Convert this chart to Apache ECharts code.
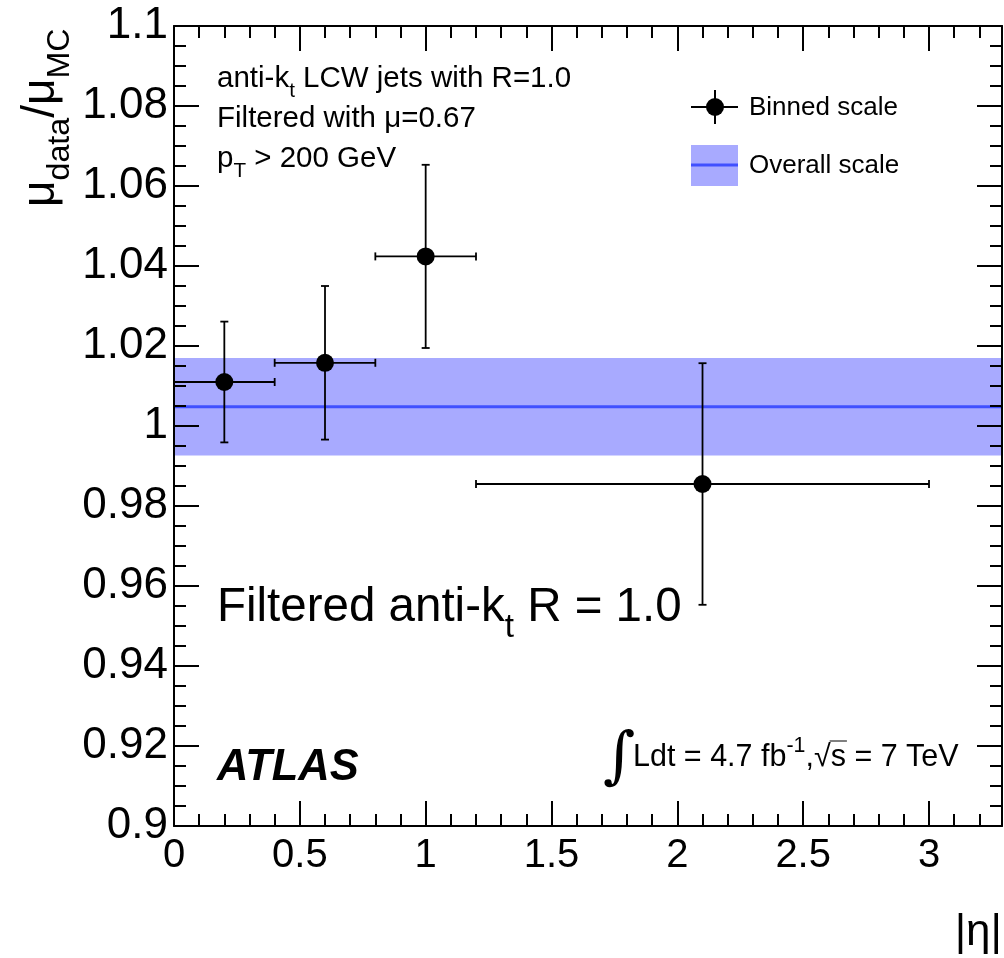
<!DOCTYPE html>
<html><head><meta charset="utf-8">
<script src="https://cdn.jsdelivr.net/npm/echarts@6/dist/echarts.min.js"></script>
<style>html,body{margin:0;padding:0;background:#fff}#c{width:1004px;height:958px}</style>
</head><body><div id="c"></div>
<script>
// ---- data ----
const etaCenter = [0.2, 0.6, 1.0, 2.1];
const etaLow    = [0.0, 0.4, 0.8, 1.2];
const etaHigh   = [0.4, 0.8, 1.2, 3.0];
const ratio     = [1.011, 1.0158, 1.0424, 0.9855];
const ratioErr  = [0.0151, 0.0192, 0.0229, 0.0302];
const overallScale = 1.0048;
const overallErr   = 0.0122;
const xRange = [0, 3.29];
const yRange = [0.9, 1.1];
const xTickLabels = ['0', '0.5', '1', '1.5', '2', '2.5', '3'];
const yTickLabels = ['0.9','0.92','0.94','0.96','0.98','1','1.02','1.04','1.06','1.08','1.1'];

// ---- helpers ----
const FF = '"Liberation Sans", Arial, Helvetica, sans-serif';
const ctx = document.createElement('canvas').getContext('2d');
function measure(t, size, weight, style, family) {
  ctx.font = `${style} ${weight} ${size}px ${family}`;
  return ctx.measureText(t).width;
}
function run(x, y, parts, fs, extra) {
  extra = extra || {};
  const els = []; let cx = x; const pos = [];
  for (const p of parts) {
    const kind = p[1] || 'n';
    const size = kind === 'n' ? (p[3] || fs) : fs * 0.7;
    const dy = kind === 'sub' ? fs * 0.42 : kind === 'sup' ? -fs * 0.38 : 0;
    const weight = extra.fontWeight || 'normal', style = extra.fontStyle || 'normal';
    const family = p[2] || FF;
    const w = measure(p[0], size, weight, style, family);
    els.push({type: 'text', x: cx, y: y + dy, silent: true, z: 50,
      style: {text: p[0], fontSize: size, fontFamily: family, fontWeight: weight, fontStyle: style,
        fill: '#000', align: 'left', verticalAlign: 'middle'}});
    pos.push([cx, cx + w]);
    cx += w;
  }
  return {els, pos, end: cx};
}

const bandColor = '#a8aaff';
const lineColor = '#4050ff';

const graphics = [];
// top-left labels
graphics.push(...run(217, 79, [['anti-k'], ['t', 'sub'], [' LCW jets with R=1.0']], 29.5).els);
graphics.push(...run(217, 119, [['Filtered with μ=0.67']], 29.5).els);
graphics.push(...run(217, 159, [['p'], ['T', 'sub'], [' > 200 GeV']], 29.5).els);
// big label
graphics.push(...run(217, 608, [['Filtered anti-k'], ['t', 'sub'], [' R = 1.0']], 47.5).els);
// ATLAS
graphics.push(...run(217, 768, [['ATLAS']], 43.5, {fontWeight: 'bold', fontStyle: 'italic'}).els);
// luminosity
graphics.push({type: 'text', x: 603, y: 760, silent: true, z: 50,
  style: {text: '∫', fontSize: 62, fontFamily: '"DejaVu Serif", serif', fill: '#000', align: 'left', verticalAlign: 'middle'}});
const LF = 30.5;
const lum = run(633, 758, [['Ldt = 4.7 fb'], ['-1', 'sup'], [','], ['√s = 7 TeV']], LF);
graphics.push(...lum.els);
{
  const sx = lum.pos[3][0] + measure('√', LF, 'normal', 'normal', FF);
  const ex = lum.pos[3][0] + measure('√s', LF, 'normal', 'normal', FF);
  graphics.push({type: 'line', silent: true, z: 50, shape: {x1: sx - 1, y1: 741, x2: ex + 1, y2: 741}, style: {stroke: '#000', lineWidth: 1}});
}
// legend
graphics.push({type: 'line', silent: true, z: 50, shape: {x1: 691, y1: 107, x2: 738, y2: 107}, style: {stroke: '#000', lineWidth: 2}});
graphics.push({type: 'line', silent: true, z: 50, shape: {x1: 715, y1: 90, x2: 715, y2: 124}, style: {stroke: '#000', lineWidth: 2}});
graphics.push({type: 'circle', silent: true, z: 50, shape: {cx: 715, cy: 107, r: 9}, style: {fill: '#000'}});
graphics.push({type: 'rect', silent: true, z: 50, shape: {x: 691, y: 145, width: 47, height: 41}, style: {fill: bandColor}});
graphics.push({type: 'line', silent: true, z: 51, shape: {x1: 691, y1: 165, x2: 738, y2: 165}, style: {stroke: lineColor, lineWidth: 3}});
graphics.push(...run(749, 108, [['Binned scale']], 26).els);
graphics.push(...run(749, 166, [['Overall scale']], 26).els);
// y axis title (rotated)
graphics.push({type: 'group', x: 41, y: 207, rotation: Math.PI / 2, silent: true,
  children: run(0, 0, [['μ'], ['data', 'sub'], ['/'], ['μ'], ['MC', 'sub']], 46).els});
// x axis title
graphics.push({type: 'text', x: 1002, y: 933, silent: true, z: 50,
  style: {text: '|η|', fontSize: 44, fontFamily: FF, fill: '#000', align: 'right', verticalAlign: 'middle'}});

// ---- chart ----
const chart = echarts.init(document.getElementById('c'), null, {renderer: 'canvas'});
const tickStyle = {color: '#000', width: 2};
function xAx(pos, major, labels) {
  return {
    type: 'value', position: pos, min: xRange[0], max: xRange[1], interval: major ? 0.5 : 0.1, z: 5,
    axisLine: {show: major, onZero: false, lineStyle: {color: '#000', width: 2}},
    axisTick: {show: true, inside: true, length: major ? 25 : 12, lineStyle: tickStyle},
    axisLabel: {show: labels, fontSize: 40, fontFamily: FF, color: '#000', margin: 10,
      showMinLabel: true, showMaxLabel: false,
      formatter: v => { const i = Math.round(v / 0.5); return Math.abs(v - i * 0.5) < 1e-6 ? (xTickLabels[i] || '') : ''; }},
    splitLine: {show: false}
  };
}
function yAx(pos, labels) {
  return {
    type: 'value', position: pos, min: yRange[0], max: yRange[1], interval: 0.02, z: 5,
    axisLine: {show: true, onZero: false, lineStyle: {color: '#000', width: 2}},
    axisTick: {show: true, inside: true, length: 25, lineStyle: tickStyle},
    minorTick: {show: true, splitNumber: 4, length: 12, lineStyle: tickStyle},
    axisLabel: {show: labels, fontSize: 44, fontFamily: FF, color: '#000', margin: 6,
      showMinLabel: true, showMaxLabel: true,
      formatter: v => yTickLabels[Math.round((v - yRange[0]) / 0.02)] || ''},
    splitLine: {show: false}, minorSplitLine: {show: false}
  };
}

const errData = etaCenter.map((x, i) => [x, ratio[i], etaLow[i], etaHigh[i], ratio[i] - ratioErr[i], ratio[i] + ratioErr[i]]);

chart.setOption({
  animation: false,
  backgroundColor: '#fff',
  grid: {left: 174, right: 2, top: 26, bottom: 132, containLabel: false, outerBoundsMode: 'none'},
  xAxis: [xAx('bottom', true, true), xAx('top', true, false), xAx('top', false, false), xAx('bottom', false, false)],
  yAxis: [yAx('left', true), yAx('right', false)],
  series: [
    {
      type: 'custom', name: 'band', xAxisIndex: 0, yAxisIndex: 0, z: 1, clip: true,
      data: [[xRange[0], overallScale - overallErr, xRange[1], overallScale + overallErr]],
      renderItem: (params, api) => {
        const p0 = api.coord([api.value(0), api.value(3)]);
        const p1 = api.coord([api.value(2), api.value(1)]);
        return {type: 'rect', shape: {x: p0[0], y: p0[1], width: p1[0] - p0[0], height: p1[1] - p0[1]}, style: {fill: bandColor}};
      }
    },
    {
      type: 'line', name: 'Overall scale', xAxisIndex: 0, yAxisIndex: 0, z: 2, symbol: 'none',
      data: [[xRange[0], overallScale], [xRange[1], overallScale]],
      lineStyle: {color: lineColor, width: 3}
    },
    {
      type: 'custom', name: 'errors', xAxisIndex: 0, yAxisIndex: 0, z: 3,
      data: errData,
      renderItem: (params, api) => {
        const l = api.coord([api.value(2), api.value(1)]);
        const r = api.coord([api.value(3), api.value(1)]);
        const t = api.coord([api.value(0), api.value(5)]);
        const b = api.coord([api.value(0), api.value(4)]);
        const cap = 4;
        const st = {stroke: '#000', lineWidth: 1.8};
        const L = (x1, y1, x2, y2) => ({type: 'line', shape: {x1, y1, x2, y2}, style: st});
        return {type: 'group', children: [
          L(l[0], l[1], r[0], r[1]), L(t[0], t[1], b[0], b[1]),
          L(l[0], l[1] - cap, l[0], l[1] + cap), L(r[0], r[1] - cap, r[0], r[1] + cap),
          L(t[0] - cap, t[1], t[0] + cap, t[1]), L(b[0] - cap, b[1], b[0] + cap, b[1])
        ]};
      }
    },
    {
      type: 'scatter', name: 'Binned scale', xAxisIndex: 0, yAxisIndex: 0, z: 4,
      symbol: 'circle', symbolSize: 18, itemStyle: {color: '#000', opacity: 1},
      data: etaCenter.map((x, i) => [x, ratio[i]])
    }
  ],
  graphic: graphics
});
</script></body></html>
